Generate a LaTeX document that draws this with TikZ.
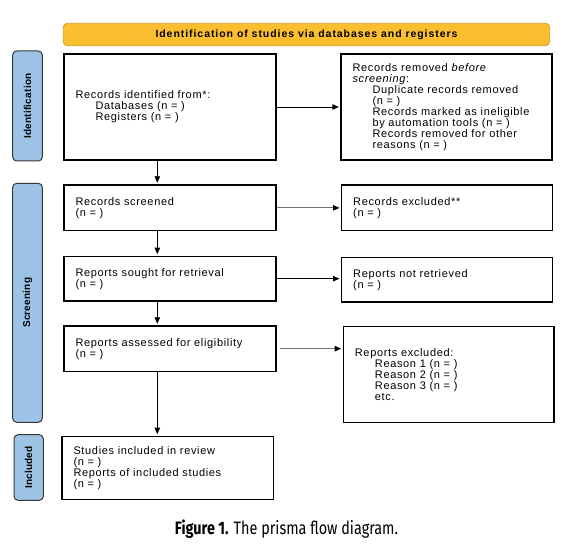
\documentclass[tikz,border=0pt]{standalone}
\usepackage{graphicx}
\usepackage{fontspec}
\setmainfont{Liberation Sans}[LetterSpace=6]
\newfontfamily\bannerfont{Liberation Sans}[LetterSpace=9]
\newfontfamily\tabfont{Liberation Sans}[LetterSpace=2]
\newfontfamily\capfont{Fira Sans}
\usetikzlibrary{arrows.meta}
\definecolor{bannerfill}{RGB}{251,190,46}
\definecolor{bannerdraw}{RGB}{210,160,40}
\definecolor{tabfill}{RGB}{157,195,230}
\definecolor{tabdraw}{RGB}{55,55,55}
\newcommand\ind{\hspace*{20pt}}
\tikzset{
  box/.style={draw=black, line width=1.4pt, anchor=north west, inner xsep=11.5pt, inner ysep=0pt, align=left, font=\fontsize{11}{11}\selectfont},
  tab/.style={draw=tabdraw, fill=tabfill, line width=1pt, rounded corners=4pt, rotate=90, inner sep=0pt, font=\tabfont\bfseries\fontsize{10}{10}\selectfont},
  arr/.style={-{Triangle[length=6.5pt,width=5.5pt,color=black]}, line width=0.9pt, shorten >=1.5pt},
  lightarr/.style={arr, draw=black!55, line width=0.8pt},
}
\begin{document}
\begin{tikzpicture}[x=1pt,y=-1pt]
\fill[white] (0,0) rectangle (571,553);
\useasboundingbox (0,0) rectangle (571,553);

% banner
\node[draw=bannerdraw, fill=bannerfill, rounded corners=4pt, line width=0.8pt,
      minimum width=486.4pt, minimum height=22.4pt, inner sep=0pt,
      font=\bannerfont\bfseries\fontsize{10.5}{10.5}\selectfont] (ban) at (306.5,34.5)
  {Identification of studies via databases and registers};

% side tabs
\node[tab, minimum width=110pt, minimum height=29.6pt] (tid) at (27.5,106) {Identification};
\node[tab, minimum width=239pt, minimum height=29.6pt] (tsc) at (27.5,302.8) {Screening};
\node[tab, minimum width=65.6pt, minimum height=29.3pt] (tin) at (28.65,467.5) {Included};

% left column
\node[box, minimum width=212pt, minimum height=106pt, text width=189pt] (id) at (63.3,53.3)
  {Records identified from*:\\ \ind Databases (n = )\\ \ind Registers (n = )};
\node[box, minimum width=212pt, minimum height=45.7pt, text width=189pt] (scr) at (63.3,184.3)
  {Records screened\\ (n = )};
\node[box, minimum width=212pt, minimum height=44.6pt, text width=189pt] (sou) at (63.3,255.7)
  {Reports sought for retrieval\\ (n = )};
\node[box, minimum width=212pt, minimum height=45.4pt, text width=189pt] (ass) at (63.3,325.3)
  {Reports assessed for eligibility\\ (n = )};
\node[box, minimum width=211.4pt, minimum height=63.3pt, text width=188.4pt] (inc) at (61.3,435.7)
  {Studies included in review\\ (n = )\\ Reports of included studies\\ (n = )};

% right column
\node[box, minimum width=211pt, minimum height=106pt, text width=188pt] (rem) at (340.3,53.3)
  {Records removed \textit{before}\\ \textit{screening}:\\
   \ind Duplicate records removed\\ \ind (n = )\\
   \ind Records marked as ineligible\\ \ind by automation tools (n = )\\
   \ind Records removed for other\\ \ind reasons (n = )};
\node[box, minimum width=211pt, minimum height=45.7pt, text width=188pt] (exc) at (341,184.3)
  {Records excluded**\\ (n = )};
\node[box, minimum width=211pt, minimum height=44.6pt, text width=188pt] (nre) at (341,256.7)
  {Reports not retrieved\\ (n = )};
\node[box, minimum width=210.6pt, minimum height=96.3pt, text width=187.6pt] (rex) at (342.7,325.7)
  {Reports excluded:\\ \ind Reason 1 (n = )\\ \ind Reason 2 (n = )\\ \ind Reason 3 (n = )\\ \ind etc.\\[8pt]};

% arrows
\coordinate (ax) at (157.3,0);
\draw[arr] (ax |- id.south) -- (ax |- scr.north);
\draw[arr] (ax |- scr.south) -- (ax |- sou.north);
\draw[arr] (ax |- sou.south) -- (ax |- ass.north);
\draw[arr] (ax |- ass.south) -- (ax |- inc.north);

\draw[arr] (id.east) -- (id.east -| rem.west);
\draw[lightarr] (scr.east) -- (scr.east -| exc.west);
\draw[arr] (sou.east) -- (sou.east -| nre.west);
\draw[lightarr] ([xshift=3pt]ass.east) -- (ass.east -| rex.west);

% caption
\node[anchor=base, inner sep=0pt] (cap) at (286.5,534.7)
  {\resizebox{223pt}{\height}{\capfont\fontsize{18}{18}\selectfont\textbf{Figure 1.} The prisma flow diagram.}};
\end{tikzpicture}
\end{document}
